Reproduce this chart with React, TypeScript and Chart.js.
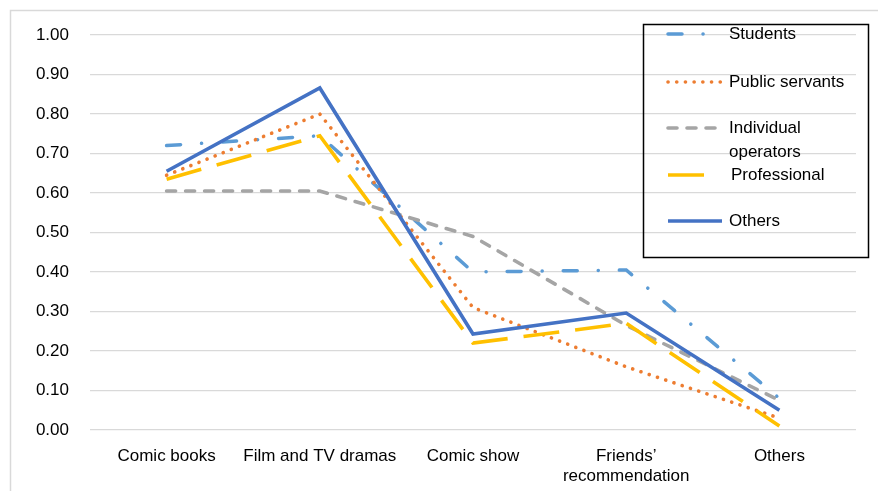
import React, { useEffect, useRef } from "react";
import { Chart, registerables } from "chart.js";

Chart.register(...registerables);

// Information channels (x axis)
const categories: (string | string[])[] = [
  "Comic books",
  "Film and TV dramas",
  "Comic show",
  ["Friends’", "recommendation"],
  "Others",
];

// Share of respondents per occupation group
const students = [0.72, 0.745, 0.4, 0.405, 0.08];
const publicServants = [0.645, 0.8, 0.31, 0.16, 0.03];
const individualOperators = [0.605, 0.605, 0.49, 0.265, 0.075];
const professional = [0.635, 0.745, 0.22, 0.27, 0.01];
const others = [0.655, 0.866, 0.243, 0.296, 0.05];

const seriesNames = ["Students", "Public servants", "Individual operators", "Professional", "Others"];
const yTicks = [0, 0.1, 0.2, 0.3, 0.4, 0.5, 0.6, 0.7, 0.8, 0.9, 1.0];

const FONT = "'Liberation Sans', Arial, Helvetica, sans-serif";

type LineStyle = {
  color: string;
  dash: number[];
  cap: CanvasLineCap;
  width: number;
};

const styles: LineStyle[] = [
  { color: "#5B9BD5", dash: [14, 21, 0.1, 21], cap: "round", width: 3.5 },
  { color: "#ED7D31", dash: [0.1, 8.6], cap: "round", width: 3.6 },
  { color: "#A5A5A5", dash: [9, 10], cap: "round", width: 3.6 },
  { color: "#FFC000", dash: [36, 16], cap: "butt", width: 3.6 },
  { color: "#4472C4", dash: [], cap: "butt", width: 3.6 },
];

// Legend box geometry and entries (label lines, sample y, text x)
const legendBox = { x: 643.5, y: 24.5, w: 225, h: 233 };
const legendItems = [
  { lines: ["Students"], y: 34, textX: 729, sampleLen: 54 },
  { lines: ["Public servants"], y: 82, textX: 729, sampleLen: 54 },
  { lines: ["Individual", "operators"], y: 128, textX: 729, sampleLen: 54 },
  { lines: ["Professional"], y: 175, textX: 731, sampleLen: 52 },
  { lines: ["Others"], y: 221, textX: 729, sampleLen: 54 },
];

const framePlugin = {
  id: "frame",
  beforeDraw(chart: Chart) {
    const { ctx, width, height } = chart;
    ctx.save();
    ctx.fillStyle = "#ffffff";
    ctx.fillRect(0, 0, width, height);
    ctx.strokeStyle = "#d9d9d9";
    ctx.lineWidth = 1.5;
    ctx.beginPath();
    ctx.moveTo(10.5, height + 2);
    ctx.lineTo(10.5, 10.5);
    ctx.lineTo(width + 2, 10.5);
    ctx.stroke();
    ctx.restore();
  },
};

const boxedLegendPlugin = {
  id: "boxedLegend",
  afterDraw(chart: Chart) {
    const { ctx } = chart;
    ctx.save();
    ctx.strokeStyle = "#000000";
    ctx.lineWidth = 1.5;
    ctx.strokeRect(legendBox.x, legendBox.y, legendBox.w, legendBox.h);

    const x0 = 668;
    legendItems.forEach((item, i) => {
      const st = styles[i];
      ctx.save();
      ctx.strokeStyle = st.color;
      ctx.lineWidth = st.width;
      ctx.lineCap = st.cap;
      ctx.setLineDash(st.dash);
      ctx.beginPath();
      ctx.moveTo(x0, item.y);
      ctx.lineTo(x0 + item.sampleLen, item.y);
      ctx.stroke();
      ctx.restore();

      ctx.fillStyle = "#000000";
      ctx.font = `17px ${FONT}`;
      ctx.textAlign = "left";
      ctx.textBaseline = "middle";
      item.lines.forEach((line, k) => {
        ctx.fillText(line, item.textX, item.y + k * 24);
      });
    });
    ctx.restore();
  },
};

export default function App() {
  const canvasRef = useRef<HTMLCanvasElement | null>(null);

  useEffect(() => {
    const canvas = canvasRef.current;
    if (!canvas) return;
    const seriesValues = [students, publicServants, individualOperators, professional, others];

    const chart = new Chart(canvas, {
      type: "line",
      data: {
        labels: categories,
        datasets: seriesValues.map((values, i) => ({
          label: seriesNames[i],
          data: values,
          borderColor: styles[i].color,
          backgroundColor: styles[i].color,
          borderWidth: styles[i].width,
          borderDash: styles[i].dash,
          borderCapStyle: styles[i].cap,
          pointRadius: 0,
          pointHoverRadius: 0,
          tension: 0,
          fill: false,
          order: seriesValues.length - 1 - i,
        })),
      },
      options: {
        responsive: false,
        animation: false,
        devicePixelRatio: 1,
        layout: { padding: { left: 0, right: 22, top: 35, bottom: 0 } },
        plugins: {
          legend: { display: false },
          tooltip: { enabled: false },
        },
        scales: {
          x: {
            type: "category",
            offset: true,
            grid: { display: false, drawTicks: false },
            border: { display: false },
            ticks: {
              color: "#000000",
              font: { family: FONT, size: 17 },
              padding: 16,
              maxRotation: 0,
              autoSkip: false,
            },
            afterFit(scale: any) {
              scale.height = 61;
            },
          },
          y: {
            type: "linear",
            min: 0,
            max: 1,
            afterBuildTicks(scale: any) {
              scale.ticks = yTicks.map((v) => ({ value: v }));
            },
            grid: { color: "#d9d9d9", lineWidth: 1.3, drawTicks: false },
            border: { display: false },
            ticks: {
              color: "#000000",
              font: { family: FONT, size: 17 },
              padding: 21,
              callback: (v: any) => Number(v).toFixed(2),
            },
            afterFit(scale: any) {
              scale.width = 90;
            },
          },
        },
      },
      plugins: [framePlugin, boxedLegendPlugin],
    });

    return () => chart.destroy();
  }, []);

  return (
    <div style={{ position: "absolute", left: 0, top: 0, width: 878, height: 491 }}>
      <canvas ref={canvasRef} width={878} height={491} style={{ display: "block" }} />
    </div>
  );
}
